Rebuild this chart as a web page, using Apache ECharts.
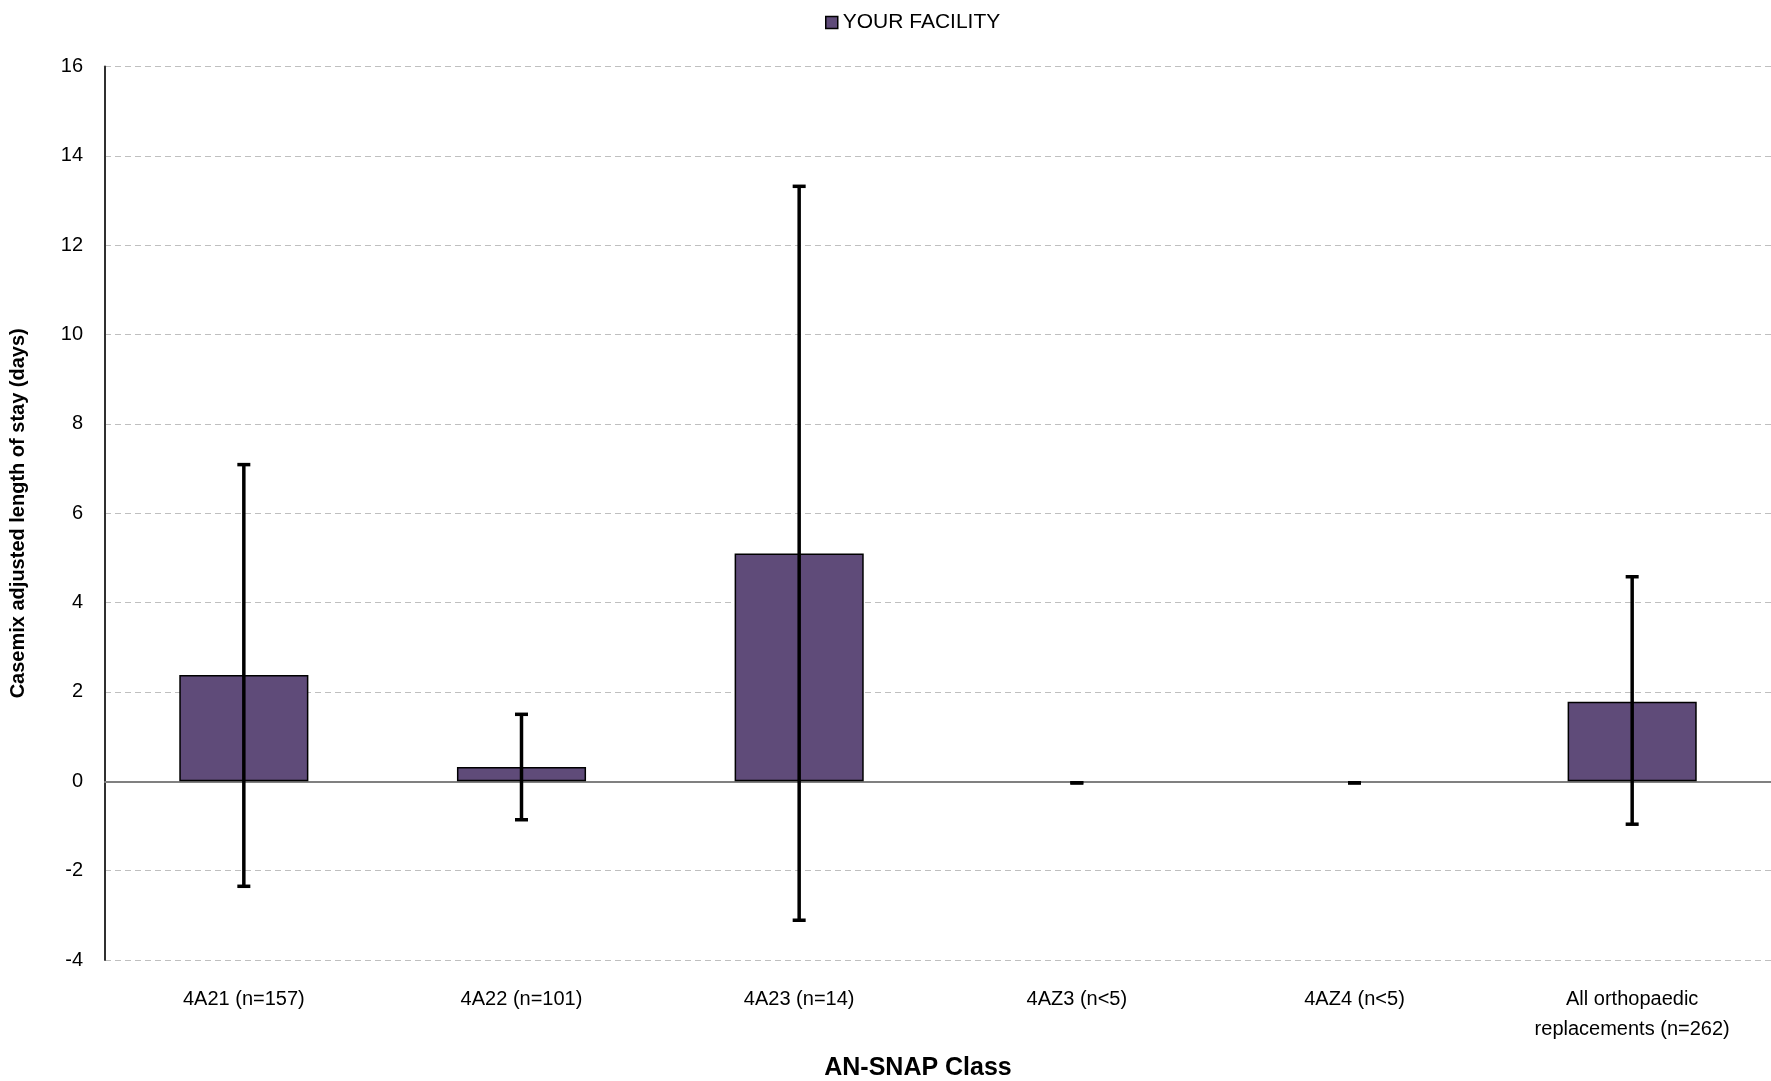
<!DOCTYPE html>
<html>
<head>
<meta charset="utf-8">
<script src="https://cdn.jsdelivr.net/npm/echarts@6/dist/echarts.min.js"></script>
<style>html,body{margin:0;padding:0;background:#fff}#c{width:1771px;height:1081px}</style>
</head>
<body>
<div id="c"></div>
<script>
const categories = ['4A21 (n=157)', '4A22 (n=101)', '4A23 (n=14)', '4AZ3 (n<5)', '4AZ4 (n<5)', 'All orthopaedic\nreplacements (n=262)'];
const values = [2.38, 0.32, 5.10, 0, 0, 1.78];
const errLow = [-2.35, -0.86, -3.11, 0, 0, -0.96];
const errHigh = [7.09, 1.50, 13.32, 0, 0, 4.58];
const seriesName = 'YOUR FACILITY';
const yTitle = 'Casemix adjusted length of stay (days)';
const xTitle = 'AN-SNAP Class';

const FONT = "'Liberation Sans', Arial, sans-serif";
const chart = echarts.init(document.getElementById('c'));
const errData = categories.map((c, i) => [i, errLow[i], errHigh[i]]);
const barData = values.map(v => v === 0 ? { value: v, itemStyle: { borderWidth: 0 } } : v);
chart.setOption({
  animation: false,
  legend: {
    top: 7, left: 820,
    itemWidth: 12, itemHeight: 12, itemGap: 7,
    textStyle: { fontFamily: FONT, fontSize: 21, color: '#000' },
    data: [{ name: seriesName, icon: 'rect', itemStyle: { borderColor: '#000', borderWidth: 1.5 } }]
  },
  grid: { left: 105, right: 0, top: 66.6, bottom: 121, containLabel: false, outerBoundsMode: 'none' },
  xAxis: {
    type: 'category', data: categories,
    name: xTitle, nameLocation: 'middle', nameGap: 96,
    nameTextStyle: { fontFamily: FONT, fontSize: 25, fontWeight: 'bold', color: '#000', padding: [0, 40, 0, 0] },
    axisLine: { onZero: true, lineStyle: { color: '#808080', width: 2 } },
    axisTick: { show: false },
    axisLabel: { fontFamily: FONT, fontSize: 20, color: '#000', margin: 24, lineHeight: 30, interval: 0 },
    position: 'bottom'
  },
  yAxis: {
    type: 'value', min: -4, max: 16, interval: 2,
    name: yTitle, nameLocation: 'middle', nameGap: 77, nameRotate: 90,
    nameTextStyle: { fontFamily: FONT, fontSize: 20, fontWeight: 'bold', color: '#000' },
    axisLine: { show: true, lineStyle: { color: '#303030', width: 2 } },
    axisTick: { show: false },
    axisLabel: { fontFamily: FONT, fontSize: 20, color: '#000', margin: 22 },
    splitLine: { show: true, lineStyle: { color: '#BFBFBF', type: [6, 4], width: 1.2 } }
  },
  series: [
    {
      name: seriesName, type: 'bar', data: barData, barWidth: '46.5%',
      itemStyle: { color: '#5F4B79', borderColor: '#000', borderWidth: 1.5 },
      z: 2
    },
    {
      type: 'custom', data: errData, z: 5,
      renderItem: function (params, api) {
        const x = api.value(0);
        const lo = api.coord([x, api.value(1)]);
        const hi = api.coord([x, api.value(2)]);
        const h = 6.5;
        const off = (api.value(1) === api.value(2)) ? 1.5 : 0;
        return {
          type: 'group',
          children: [
            { type: 'line', shape: { x1: lo[0], y1: lo[1], x2: hi[0], y2: hi[1] }, style: { stroke: '#000', lineWidth: 3.5 } },
            { type: 'line', shape: { x1: lo[0] - h, y1: lo[1] + off, x2: lo[0] + h, y2: lo[1] + off }, style: { stroke: '#000', lineWidth: 3.5 } },
            { type: 'line', shape: { x1: hi[0] - h, y1: hi[1] + off, x2: hi[0] + h, y2: hi[1] + off }, style: { stroke: '#000', lineWidth: 3.5 } }
          ]
        };
      }
    }
  ]
});
</script>
</body>
</html>
